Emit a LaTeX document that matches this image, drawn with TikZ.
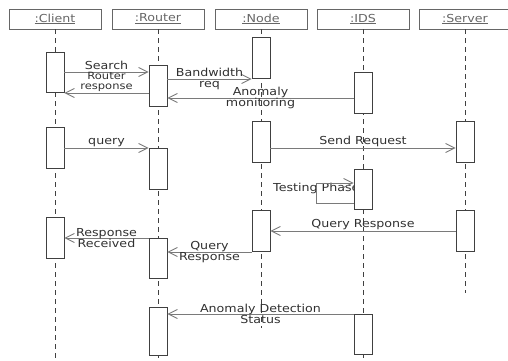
\documentclass[tikz,border=0pt]{standalone}
\usepackage{fontspec}
\setmainfont{DejaVu Sans}[FakeStretch=1.15]
\usetikzlibrary{arrows.meta,calc}
\definecolor{linegray}{HTML}{7A7A7A}
\definecolor{boxgray}{HTML}{404040}
\definecolor{headgray}{HTML}{666666}
\definecolor{txtgray}{HTML}{303030}

\begin{document}
\begin{tikzpicture}[
    x=1pt, y=-1pt,
    head/.style={draw=headgray, line width=0.9pt, minimum width=92, minimum height=20,
                 inner sep=0pt, text=headgray, font=\fontsize{11}{12}\selectfont},
    act/.style={draw=boxgray, fill=white, line width=0.9pt, minimum width=18,
                minimum height=#1, inner sep=0pt, anchor=north},
    life/.style={draw=boxgray, line width=0.8pt, dash pattern=on 5pt off 4pt},
    msg/.style={draw=linegray, line width=0.9pt, -{Straight Barb[length=9pt,width=9pt]}},
    lbl/.style={font=\fontsize{11}{10.5}\selectfont, align=center, text=txtgray, inner sep=1pt}
  ]
    \useasboundingbox (0,0) rectangle (508,360);

    % Objects
    \node[head] (client) at (55,19)  {\underline{:Client}};
    \node[head] (router) at (158,19) {\underline{:Router}};
    \node[head] (nd)     at (261,19) {\underline{:Node}};
    \node[head] (ids)    at (363,19) {\underline{:IDS}};
    \node[head] (server) at (465,19) {\underline{:Server}};

    % Lifelines
    \coordinate (client end) at (client |- 0,360);
    \coordinate (router end) at (router |- 0,360);
    \coordinate (nd end)     at (nd |- 0,328);
    \coordinate (ids end)    at (ids |- 0,360);
    \coordinate (server end) at (server |- 0,293);
    \draw[life] (client) -- (client end);
    \draw[life] (router) -- (router end);
    \draw[life] (nd) -- (nd end);
    \draw[life] (ids) -- (ids end);
    \draw[life] (server) -- (server end);

    % Activations
    \node[act=40] (c1) at (client |- 0,52)  {};
    \node[act=41] (c2) at (client |- 0,127) {};
    \node[act=41] (c3) at (client |- 0,217) {};
    \node[act=41] (r1) at (router |- 0,65)  {};
    \node[act=41] (r2) at (router |- 0,148) {};
    \node[act=40] (r3) at (router |- 0,238) {};
    \node[act=48] (r4) at (router |- 0,307) {};
    \node[act=41] (n1) at (nd |- 0,37)  {};
    \node[act=41] (n2) at (nd |- 0,121) {};
    \node[act=41] (n3) at (nd |- 0,210) {};
    \node[act=41] (i1) at (ids |- 0,72)  {};
    \node[act=40] (i3) at (ids |- 0,314) {};
    \node[act=41] (s1) at (server |- 0,121) {};
    \node[act=41] (s2) at (server |- 0,210) {};

    % Messages
    \draw[msg] (c1.east |- 0,72) -- node[lbl, above, inner sep=1.5pt]{Search} (r1.west |- 0,72);
    \draw[msg] (r1.west |- 0,93) -- node[lbl, above, inner sep=0.5pt,
      font=\fontsize{10}{10}\selectfont]{Router\\response} (c1.east |- 0,93);
    \draw[msg] (r1.east |- 0,79) -- node[lbl]{Bandwidth\\req} (n1.west |- 0,79);
    \draw[msg] (i1.west |- 0,98) -- node[lbl]{Anomaly\\monitoring} (r1.east |- 0,98);
    \draw[msg] (c2.east |- 0,148) -- node[lbl, above]{query} (r2.north west);
    \draw[msg] (n2.east |- 0,148) -- node[lbl, above]{Send Request} (s1.west |- 0,148);

    % Self call
    \node[lbl, anchor=west] (tp) at (272,188) {Testing Phase};
    \node[act=40] (i2) at (ids |- 0,169) {};
    \draw[msg] (i2.west |- 0,203) -- ++(-37,0) -- ++(0,-20) -- (i2.west |- 0,183);

    \draw[msg] (s2.west |- 0,231) -- node[lbl, above]{Query Response} (n3.east |- 0,231);
    \draw[msg] (r3.north west) -- node[lbl]{Response\\Received} (c3.east |- 0,238);
    \draw[msg] (n3.west |- 0,252) -- node[lbl]{Query\\Response} (r3.east |- 0,252);
    \draw[msg] (i3.north west) -- node[lbl]{Anomaly Detection\\Status} (r4.east |- 0,314);
\end{tikzpicture}
\end{document}
